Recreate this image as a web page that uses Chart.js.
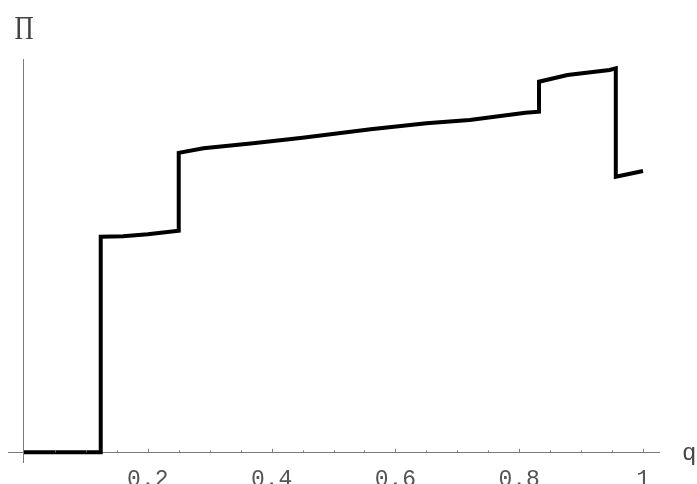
<!DOCTYPE html>
<html>
<head>
<meta charset="utf-8">
<script src="https://cdn.jsdelivr.net/npm/chart.js@4.4.0/dist/chart.umd.min.js"></script>
<style>
  html, body { margin: 0; padding: 0; background: #fff; }
  #wrap { width: 697px; height: 484px; overflow: hidden; }
</style>
</head>
<body>
<div id="wrap"><canvas id="profitChart" width="697" height="484"></canvas></div>
<script>
// --- Data ---
// q values (duplicated q = vertical jump)
const qValues = [0, 0.124, 0.124, 0.16, 0.2, 0.25, 0.25, 0.29, 0.37, 0.45, 0.56, 0.65, 0.72, 0.81, 0.832, 0.832, 0.878, 0.946, 0.956, 0.956, 1.0];
const piValues = [0, 0, 2.156, 2.16, 2.18, 2.216, 2.995, 3.04, 3.09, 3.146, 3.23, 3.29, 3.323, 3.396, 3.406, 3.706, 3.773, 3.823, 3.84, 2.756, 2.813];

const majorTicks = [0.2, 0.4, 0.6, 0.8, 1];
const tickLabels = ["0.2", "0.4", "0.6", "0.8", "1"];
const minorTicks = [0.05, 0.1, 0.15, 0.25, 0.3, 0.35, 0.45, 0.5, 0.55, 0.65, 0.7, 0.75, 0.85, 0.9, 0.95];

const axisColor = "#7a7a7a";
const monoFont = '"Liberation Mono", "Courier New", monospace';
const serifFont = '"Liberation Serif", "Times New Roman", serif';

// Mathematica style: inward tick marks and axis labels
const axisDecor = {
  id: "axisDecor",
  afterDraw(chart) {
    const { ctx, scales } = chart;
    const x = scales.x, y = scales.y;
    const y0 = y.getPixelForValue(0);
    ctx.save();
    ctx.strokeStyle = axisColor;
    ctx.lineWidth = 1;
    ctx.beginPath();
    majorTicks.forEach(v => {
      const px = Math.round(x.getPixelForValue(v)) + 0.5;
      ctx.moveTo(px, y0);
      ctx.lineTo(px, y0 - 3.5);
    });
    minorTicks.forEach(v => {
      const px = Math.round(x.getPixelForValue(v)) + 0.5;
      ctx.moveTo(px, y0);
      ctx.lineTo(px, y0 - 2);
    });
    ctx.stroke();

    ctx.fillStyle = "#444";
    ctx.textBaseline = "alphabetic";
    // y label, a narrow serif capital pi
    ctx.save();
    ctx.translate(x.getPixelForValue(0), 39);
    ctx.scale(0.78, 1);
    ctx.textAlign = "center";
    ctx.font = "34px " + serifFont;
    ctx.fillText("\u03A0", 0, 0);
    ctx.restore();
    // x label
    ctx.textAlign = "left";
    ctx.font = "24px " + monoFont;
    ctx.fillText("q", x.right + 23, y0 + 7.5);
    ctx.restore();
  }
};

const ctx = document.getElementById("profitChart").getContext("2d");

const chart = new Chart(ctx, {
  type: "line",
  data: {
    datasets: [
      {
        data: qValues.map((q, i) => ({ x: q, y: piValues[i] })),
        borderColor: "#000",
        borderWidth: 4,
        tension: 0,
        pointRadius: 0,
        fill: false,
      },
    ],
  },
  options: {
    responsive: false,
    animation: false,
    events: [],
    layout: { padding: { left: 8, right: 38, top: 59, bottom: 21.3 } },
    plugins: {
      legend: { display: false },
      tooltip: { enabled: false },
    },
    scales: {
      x: {
        type: "linear",
        min: -0.0258,
        max: 1.0258,
        position: { y: 0 },
        afterFit: (scale) => { scale.height = 0; },
        afterBuildTicks: (scale) => {
          scale.ticks = majorTicks.map(v => ({ value: v }));
        },
        grid: { display: false, drawTicks: false },
        border: { display: true, color: axisColor, width: 1 },
        ticks: {
          autoSkip: false,
          maxRotation: 0,
          padding: 14,
          color: "#555",
          font: { family: monoFont, size: 23 },
          callback: (value, index) => tickLabels[index],
        },
      },
      y: {
        type: "linear",
        min: -0.104,
        max: 3.933,
        position: { x: 0 },
        afterFit: (scale) => { scale.width = 0; },
        grid: { display: false, drawTicks: false },
        border: { display: true, color: axisColor, width: 1 },
        ticks: { display: false },
      },
    },
  },
  plugins: [axisDecor],
});
</script>
</body>
</html>
